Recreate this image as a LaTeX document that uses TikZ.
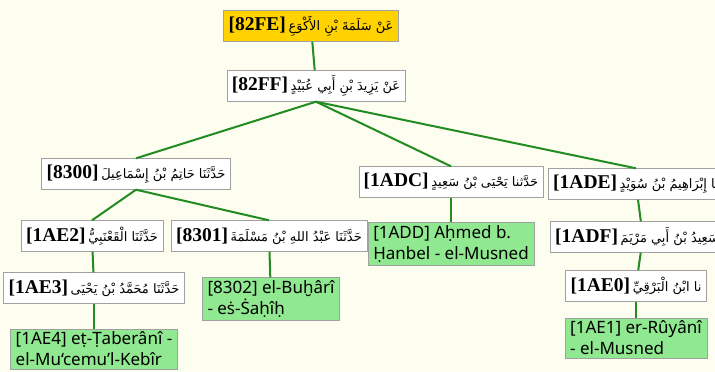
\documentclass[tikz,border=0pt]{standalone}
\usepackage{fontspec}
\setmainfont{Noto Sans}
\newfontfamily\labelfont{Liberation Serif}
\newfontfamily\arabicfont[Script=Arabic]{DejaVu Sans}
\TeXXeTstate=1
\usepackage{tikz}
\definecolor{bgcream}{RGB}{253,253,240}
\definecolor{topgold}{RGB}{255,210,0}
\definecolor{srcgreen}{RGB}{144,232,144}
\definecolor{linkgreen}{RGB}{34,139,34}
\definecolor{boxgray}{RGB}{160,160,160}
\newcommand{\hlabel}[1]{{\labelfont\bfseries\fontsize{19.5}{21}\selectfont[#1]}}
\newcommand{\artext}[1]{{\arabicfont\fontsize{13}{20}\selectfont\beginR #1\endR}}
\tikzset{
  narrator/.style={draw=boxgray, fill=white, inner xsep=5pt, inner ysep=3pt, minimum height=31pt},
  topnarrator/.style={narrator, fill=topgold},
  source/.style={draw=boxgray, fill=srcgreen, align=left, inner xsep=5pt, inner ysep=3pt,
    font=\fontsize{17}{21}\selectfont},
  chain/.style={linkgreen, line width=2pt},
}
\begin{document}
\begin{tikzpicture}[x=1pt, y=-1pt]
\fill[bgcream] (0,0) rectangle (715,372);
\useasboundingbox (0,0) rectangle (715,372);
% draws narrators
\node[topnarrator] (n82FE) at (311,26) {\hlabel{82FE} \artext{عَنْ سَلَمَةَ بْنِ الأَكْوَعِ}};
\node[narrator] (n82FF) at (316,86) {\hlabel{82FF} \artext{عَنْ يَزِيدَ بْنِ أَبِي عُبَيْدٍ}};
\node[narrator] (n8300) at (136,174) {\hlabel{8300} \artext{حَدَّثَنَا حَاتِمُ بْنُ إِسْمَاعِيلَ}};
\node[narrator] (n1ADC) at (451,182) {\hlabel{1ADC} \artext{حَدَّثنا يَحْيَى بْنُ سَعِيدٍ}};
\node[narrator, anchor=west] (n1ADE) at (548,184) {\hlabel{1ADE} \artext{نا إِبْرَاهِيمُ بْنُ سُوَيْدٍ}};
\node[narrator] (n1AE2) at (92,236) {\hlabel{1AE2} \artext{حَدَّثَنَا الْقَعْنَبِيُّ}};
\node[narrator] (n8301) at (269,236) {\hlabel{8301} \artext{حَدَّثَنَا عَبْدُ اللهِ بْنُ مَسْلَمَةَ}};
\node[narrator, anchor=west] (n1ADF) at (550,237) {\hlabel{1ADF} \artext{نا سَعِيدُ بْنُ أَبِي مَرْيَمَ}};
\node[narrator] (n1AE3) at (94,288) {\hlabel{1AE3} \artext{حَدَّثَنَا مُحَمَّدُ بْنُ يَحْيَى}};
\node[narrator] (n1AE0) at (636,286) {\hlabel{1AE0} \artext{نا ابْنُ الْبَرْقِيِّ}};
% draws sources
\node[source] (n1ADD) at (451,244) {[1ADD] Aḥmed b.\\Ḥanbel - el-Musned};
\node[source] (n8302) at (271,299) {[8302] el-Buḫârî\\- eṡ-Ṡaḥîḥ};
\node[source] (n1AE4) at (94,349) {[1AE4] eṭ-Ṭaberânî -\\el-Mu‘cemu'l-Kebîr};
\node[source] (n1AE1) at (636,338) {[1AE1] er-Rûyânî\\- el-Musned};
% draws chains
\draw[chain] (n82FE) -- (n82FF);
\draw[chain] (n82FF.south) -- (n8300.north);
\draw[chain] (n82FF.south) -- (n1ADC.north);
\draw[chain] (n82FF.south) -- (n1ADE.north);
\draw[chain] (n8300.south) -- (n1AE2.north);
\draw[chain] (n8300.south) -- (n8301.north);
\draw[chain] (n1ADC) -- (n1ADD);
\draw[chain] (n1ADE) -- (n1ADF);
\draw[chain] (n1AE2) -- (n1AE3);
\draw[chain] (n8301) -- (n8302);
\draw[chain] (n1ADF) -- (n1AE0);
\draw[chain] (n1AE3) -- (n1AE4);
\draw[chain] (n1AE0) -- (n1AE1);
\end{tikzpicture}
\end{document}
